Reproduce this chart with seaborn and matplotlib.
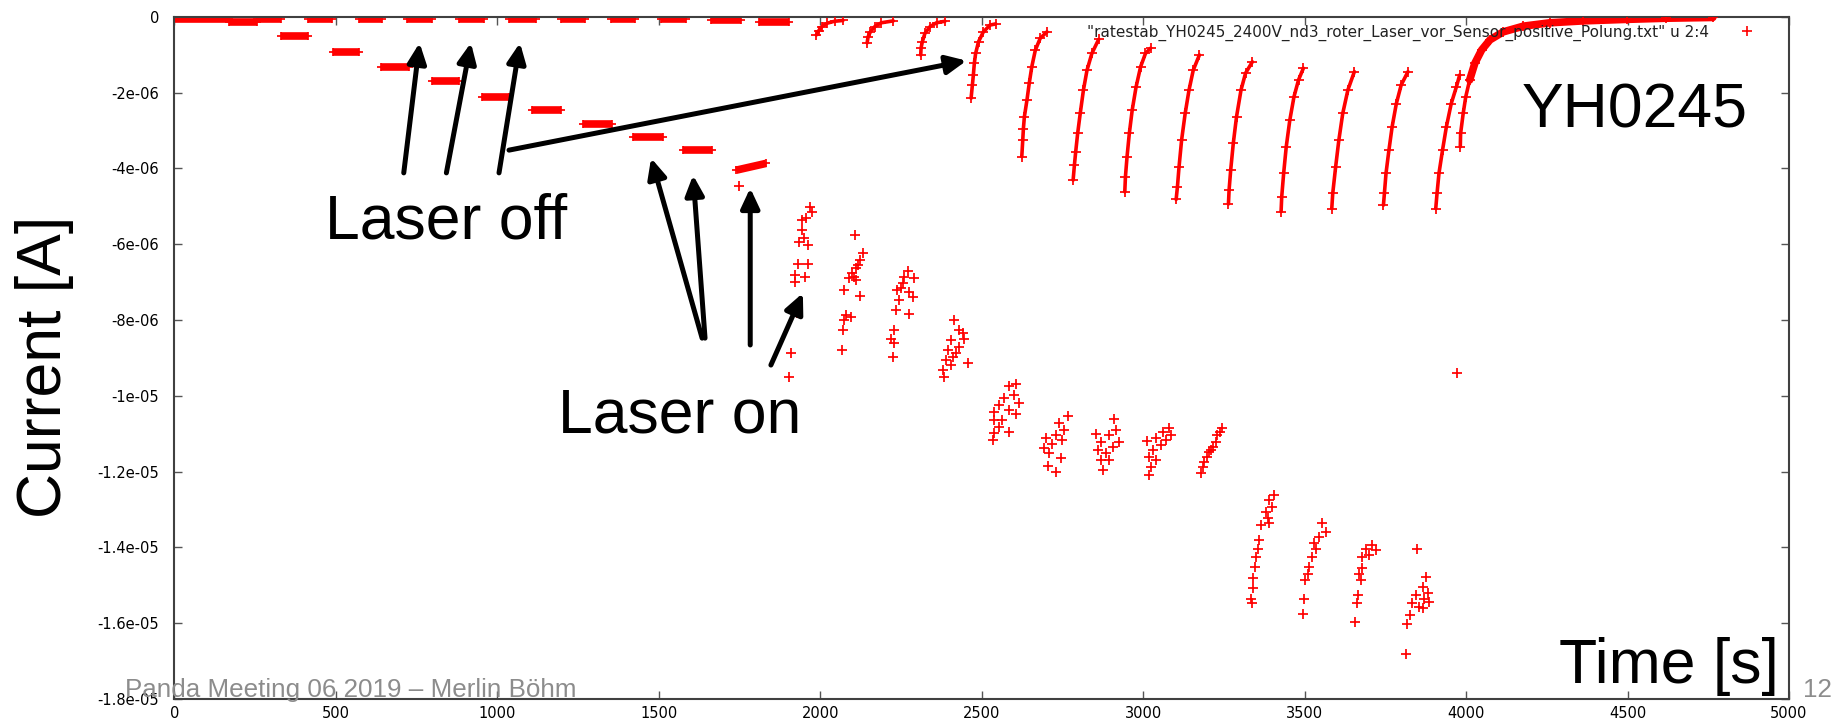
import numpy as np
import pandas as pd
import matplotlib
matplotlib.use("Agg")
import matplotlib.pyplot as plt
from matplotlib.lines import Line2D
import seaborn as sns

# ---------------- data (time in s, current in micro-ampere) ----------------
# flat stretches with laser off (close to zero)
off_t0 = [0, 170, 254, 412, 570, 721, 882, 1037, 1198, 1353, 1508, 1662, 1811]
off_t1 = [170, 254, 331, 489, 644, 799, 957, 1118, 1272, 1427, 1585, 1755, 1904]
off_i = [-0.06, -0.13, -0.05, -0.05, -0.05, -0.05, -0.05, -0.05, -0.05, -0.05, -0.06, -0.09, -0.13]

# flat stretches with laser on (steps)
on_t0 = [331, 492, 640, 796, 953, 1108, 1266, 1421, 1576, 1739]
on_t1 = [412, 570, 727, 882, 1037, 1198, 1356, 1514, 1666, 1832]
on_i0 = [-0.51, -0.92, -1.32, -1.70, -2.11, -2.46, -2.83, -3.17, -3.52, -4.05]
on_i1 = [-0.51, -0.92, -1.32, -1.70, -2.11, -2.46, -2.83, -3.17, -3.52, -3.87]

# relaxation curves (laser off)
r01 = ([1988, 1995, 2005, 2022, 2044, 2070], [-0.48, -0.37, -0.26, -0.17, -0.12, -0.10])
r02 = ([2145, 2148, 2155, 2169, 2189, 2226], [-0.69, -0.53, -0.40, -0.26, -0.16, -0.11])
r03 = ([2311, 2312, 2316, 2324, 2340, 2360, 2386], [-1.01, -0.83, -0.66, -0.44, -0.26, -0.16, -0.12])
r04 = ([2467, 2471, 2474, 2477, 2481, 2490, 2505, 2526, 2543],
       [-2.15, -1.80, -1.54, -1.23, -0.97, -0.66, -0.40, -0.22, -0.19])
r05 = ([2624, 2627, 2629, 2632, 2640, 2647, 2655, 2666, 2681, 2702],
       [-3.69, -3.25, -2.95, -2.64, -2.20, -1.76, -1.32, -0.88, -0.57, -0.40])
r06 = ([2783, 2787, 2791, 2797, 2805, 2815, 2826, 2841, 2862],
       [-4.31, -3.91, -3.56, -3.08, -2.55, -1.93, -1.41, -0.97, -0.60])
r07 = ([2943, 2945, 2950, 2957, 2966, 2978, 2992, 3007, 3023],
       [-4.62, -4.22, -3.69, -3.08, -2.46, -1.85, -1.32, -0.97, -0.83])
r08 = ([3102, 3106, 3111, 3119, 3130, 3142, 3155, 3174],
       [-4.82, -4.49, -3.96, -3.25, -2.55, -1.93, -1.41, -1.01])
r09 = ([3264, 3266, 3271, 3279, 3289, 3303, 3317, 3338],
       [-4.94, -4.57, -4.04, -3.34, -2.64, -1.93, -1.49, -1.19])
r10 = ([3427, 3429, 3435, 3443, 3454, 3467, 3481, 3496],
       [-5.14, -4.75, -4.13, -3.43, -2.73, -2.11, -1.67, -1.36])
r11 = ([3584, 3587, 3596, 3606, 3618, 3634, 3654],
       [-5.06, -4.66, -3.96, -3.25, -2.55, -1.93, -1.45])
r12 = ([3744, 3747, 3752, 3761, 3771, 3784, 3799, 3820],
       [-4.97, -4.66, -4.13, -3.52, -2.90, -2.29, -1.80, -1.45])
r13 = ([3906, 3910, 3916, 3927, 3939, 3954, 3970, 3980],
       [-5.06, -4.66, -4.13, -3.52, -2.90, -2.29, -1.85, -1.54])
r_final = ([3982, 3983, 3991, 3999, 4011, 4027, 4048, 4074, 4115, 4177, 4260, 4363, 4498, 4620, 4764],
           [-3.43, -3.08, -2.55, -2.11, -1.67, -1.23, -0.88, -0.61, -0.40, -0.25, -0.16, -0.11, -0.07, -0.04, -0.02])

# scattered clusters (laser on)
cA = ([1969, 1975, 1957, 1944, 1935, 1963, 1932, 1963, 1923, 1954, 1923, 1929, 1910, 1904, 1943, 1951, 1916],
      [-5.02, -5.16, -5.31, -5.63, -5.94, -6.02, -6.52, -6.52, -6.82, -6.87, -7.00, -7.82, -8.87, -9.50, -5.36, -5.85, -7.78])
cB = ([2109, 2133, 2123, 2111, 2099, 2088, 2111, 2073, 2123, 2094, 2081, 2073, 2070, 2066, 2117, 2105],
      [-5.76, -6.24, -6.42, -6.64, -6.77, -6.90, -6.95, -7.21, -7.37, -7.92, -7.87, -8.00, -8.27, -8.79, -6.55, -6.86])
cC = ([2273, 2291, 2255, 2239, 2276, 2286, 2245, 2234, 2276, 2229, 2219, 2229, 2224, 2260, 2250],
      [-6.70, -6.90, -7.03, -7.21, -7.26, -7.39, -7.47, -7.74, -7.84, -8.27, -8.49, -8.62, -8.99, -6.88, -7.17])
cD = ([2415, 2430, 2446, 2405, 2430, 2394, 2420, 2389, 2456, 2405, 2379, 2384, 2441, 2410],
      [-8.00, -8.27, -8.49, -8.53, -8.71, -8.79, -8.88, -9.06, -9.13, -9.19, -9.32, -9.50, -8.35, -8.97])
cE = ([2606, 2585, 2601, 2570, 2616, 2554, 2585, 2539, 2606, 2564, 2539, 2554, 2585, 2539, 2534],
      [-9.69, -9.74, -9.98, -10.07, -10.20, -10.25, -10.38, -10.42, -10.47, -10.64, -10.64, -10.82, -10.95, -10.99, -11.17])
cF = ([2766, 2740, 2755, 2730, 2699, 2750, 2719, 2693, 2709, 2745, 2704, 2730],
      [-10.54, -10.73, -10.91, -11.04, -11.12, -11.17, -11.26, -11.39, -11.52, -11.63, -11.86, -12.01])
cG = ([2910, 2915, 2895, 2926, 2853, 2869, 2905, 2859, 2885, 2869, 2874, 2895],
      [-10.62, -10.91, -11.04, -11.21, -11.01, -11.21, -11.35, -11.43, -11.52, -11.70, -11.96, -11.70])
cH = ([3080, 3060, 3085, 3039, 3013, 3070, 3055, 3029, 3019, 3039, 3024, 3019],
      [-10.86, -10.95, -11.04, -11.12, -11.19, -11.17, -11.30, -11.43, -11.61, -11.70, -11.87, -12.09])
cI = ([3244, 3230, 3225, 3215, 3204, 3199, 3189, 3184, 3179, 3237, 3209],
      [-10.86, -11.04, -11.21, -11.35, -11.48, -11.61, -11.74, -11.87, -12.05, -10.95, -11.43])
cJ = ([3406, 3390, 3400, 3380, 3385, 3364, 3390, 3359, 3354, 3349, 3347, 3341, 3341, 3333, 3338],
      [-12.62, -12.75, -12.93, -13.06, -13.23, -13.41, -13.37, -13.81, -14.03, -14.25, -14.51, -14.82, -15.08, -15.35, -15.46])
cK = ([3555, 3566, 3545, 3529, 3535, 3522, 3514, 3509, 3502, 3498, 3496],
      [-13.37, -13.59, -13.72, -13.89, -14.03, -14.25, -14.51, -14.69, -14.86, -15.37, -15.77])
cL = ([3710, 3689, 3720, 3700, 3679, 3677, 3669, 3674, 3664, 3661, 3657],
      [-13.94, -14.03, -14.07, -14.20, -14.25, -14.55, -14.69, -14.86, -15.26, -15.48, -15.96])
cM = ([3849, 3875, 3865, 3883, 3844, 3870, 3885, 3834, 3855, 3826, 3818, 3866, 3813],
      [-14.05, -14.78, -15.04, -15.21, -15.26, -15.35, -15.44, -15.48, -15.57, -15.79, -16.01, -15.61, -16.82])
strays = ([1749, 3973], [-4.47, -9.40])

x_ticks = [0, 500, 1000, 1500, 2000, 2500, 3000, 3500, 4000, 4500, 5000]
y_ticks = [0, -2e-6, -4e-6, -6e-6, -8e-6, -1e-5, -1.2e-5, -1.4e-5, -1.6e-5, -1.8e-5]
y_tick_labels = ["0", "-2e-06", "-4e-06", "-6e-06", "-8e-06", "-1e-05",
                 "-1.2e-05", "-1.4e-05", "-1.6e-05", "-1.8e-05"]
legend_label = '"ratestab_YH0245_2400V_nd3_roter_Laser_vor_Sensor_positive_Polung.txt" u 2:4'

# ---------------- figure ----------------
sns.set_theme(style="ticks")
plt.rcParams["font.family"] = ["DejaVu Sans"]
plt.rcParams["axes.unicode_minus"] = False

W, H = 1849, 722
fig = plt.figure(figsize=(W / 100, H / 100), dpi=100)
fig.patch.set_facecolor("white")
L, R, T, B = 174.5, 1789, 16.7, 699
ax = fig.add_axes([L / W, 1 - B / H, (R - L) / W, (B - T) / H])
ax.set_facecolor("white")

RED = "#ff0000"
UA = 1e-6
ms, mew = 6.3, 1.25

# flat dashes
for t0, t1, i in zip(off_t0, off_t1, off_i):
    ax.plot([t0, t1], [i * UA, i * UA], color=RED, lw=5.5, solid_capstyle="butt",
            marker="+", ms=ms, mew=mew)
for t0, t1, i0, i1 in zip(on_t0, on_t1, on_i0, on_i1):
    ax.plot([t0, t1], [i0 * UA, i1 * UA], color=RED, lw=5.5, solid_capstyle="butt",
            marker="+", ms=ms, mew=mew)

# relaxation curves
curves = [r01, r02, r03, r04, r05, r06, r07, r08, r09, r10, r11, r12, r13]
for ts, cs in curves:
    ax.plot(ts, np.array(cs) * UA, color=RED, lw=2.6)
ax.plot(r_final[0], np.array(r_final[1]) * UA, color=RED, lw=2.6)
ax.plot(r_final[0][4:], np.array(r_final[1][4:]) * UA, color=RED, lw=5.5,
        solid_capstyle="round")

# all sampled points as '+' markers (seaborn)
rows = []
for k, (ts, cs) in enumerate(curves + [r_final, cA, cB, cC, cD, cE, cF, cG, cH, cI, cJ, cK, cL, cM, strays]):
    for t, c in zip(ts, cs):
        rows.append((k, t, c * UA))
df = pd.DataFrame(rows, columns=["seg", "time", "current"])
sns.scatterplot(data=df, x="time", y="current", marker="+", s=ms ** 2 * 1.2,
                color=RED, linewidth=mew, ax=ax, legend=False, zorder=3)

# axes formatting
ax.set_xlim(0, 5000)
ax.set_ylim(-1.8e-5, 0)
ax.set_xticks(x_ticks)
ax.set_xticklabels([str(v) for v in x_ticks])
ax.set_yticks(y_ticks)
ax.set_yticklabels(y_tick_labels)
ax.set_xlabel("")
ax.set_ylabel("")
for s in ax.spines.values():
    s.set_visible(True)
    s.set_color("#404040")
    s.set_linewidth(1.5)
ax.tick_params(axis="both", direction="in", length=5.5, width=1.0, color="#555555",
               top=True, right=True, labelsize=10.5, labelcolor="black")
ax.tick_params(axis="x", pad=5)
ax.tick_params(axis="y", pad=11)

# legend (gnuplot-like key)
handle = Line2D([], [], color=RED, marker="+", ls="none", ms=6.5, mew=1.2)
ax.legend([handle], [legend_label], loc="center right", frameon=False,
          bbox_to_anchor=(1761 / W, 1 - 32.5 / H), bbox_transform=fig.transFigure,
          markerfirst=False, handlelength=1.8, handletextpad=1.6, borderpad=0,
          borderaxespad=0, fontsize=11, labelcolor="#222222")

# arrows (data coordinates: time, current)
arrows = [((710, -4.12), (759, -0.69)), ((842, -4.12), (918, -0.69)),
          ((1005, -4.12), (1070, -0.69)), ((1036, -3.52), (2453, -1.16)),
          ((1634, -8.48), (1476, -3.73)), ((1643, -8.48), (1606, -4.18)),
          ((1783, -8.66), (1783, -4.52)), ((1847, -9.19), (1946, -7.29))]
for (tx, ty), (hx, hy) in arrows:
    ax.annotate("", xy=(hx, hy * UA), xytext=(tx, ty * UA),
                arrowprops=dict(arrowstyle="-|>,head_length=0.6,head_width=0.28",
                                mutation_scale=20, lw=3.6, color="black",
                                shrinkA=0, shrinkB=0))

big = dict(family=["Liberation Sans", "DejaVu Sans"], fontsize=45, color="black")

def fx(x):
    return x / W

def fy(y):
    return 1 - y / H

fig.text(fx(445.7), fy(222), "Laser off", ha="center", va="center", **big)
fig.text(fx(680), fy(416), "Laser on", ha="center", va="center", **big)
fig.text(fx(1635), fy(110.5), "YH0245", ha="center", va="center", **big)
fig.text(fx(1779), fy(682.7), "Time [s]", ha="right", va="baseline", **big)
fig.text(fx(45), fy(367), "Current [A]", ha="center", va="center", rotation=90, **big)

gray = dict(family=["Liberation Sans", "DejaVu Sans"], fontsize=18.7, color="#8c8c8c")
fig.text(fx(125), fy(696.7), "Panda Meeting 06 2019 \u2013 Merlin B\u00f6hm", ha="left", va="baseline", **gray)
fig.text(fx(1803), fy(696.7), "12", ha="left", va="baseline", **gray)

fig.savefig("out.png", dpi=100, facecolor="white")
